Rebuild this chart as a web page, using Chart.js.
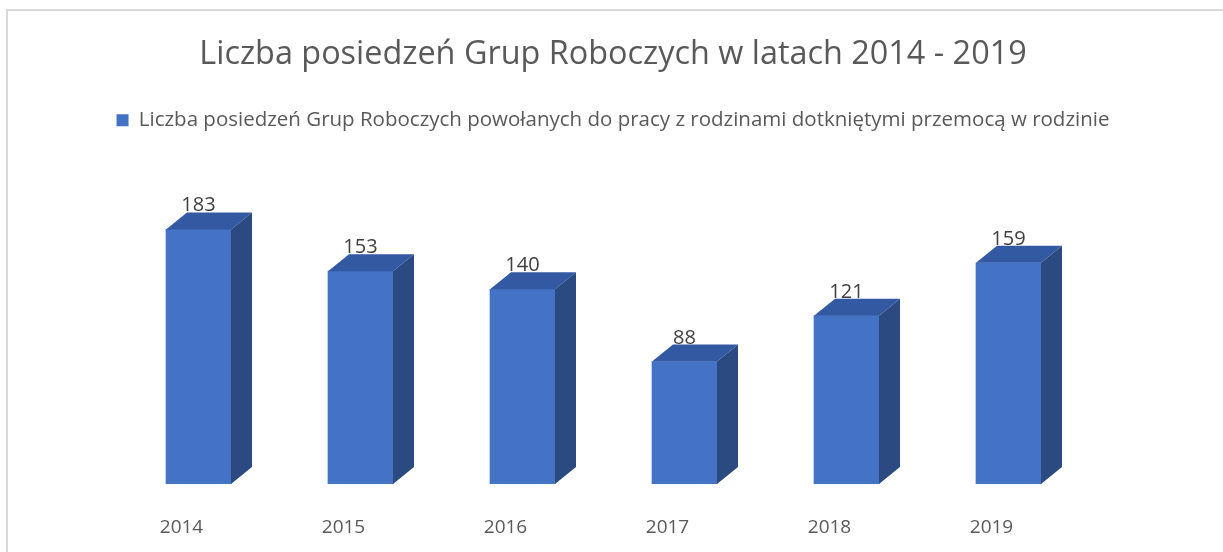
<!DOCTYPE html>
<html lang="pl">
<head>
    <meta charset="UTF-8">
    <title>Liczba posiedzeń Grup Roboczych</title>
    <script src="https://cdn.jsdelivr.net/npm/chart.js"></script>
    <style>
        body { margin: 0; background: #fff; }
        #frame { position: absolute; left: 6px; top: 9px; width: 1300px; height: 600px;
                 border-left: 2px solid #d9d9d9; border-top: 2px solid #d9d9d9; }
        #wrap { position: absolute; left: 0; top: 0; width: 1223px; height: 552px; }
    </style>
</head>
<body>
<div id="frame"></div>
<div id="wrap"><canvas id="posiedzenia"></canvas></div>

<script>
    // data
    const years = ['2014', '2015', '2016', '2017', '2018', '2019'];
    const meetings = [183, 153, 140, 88, 121, 159];
    const seriesName = 'Liczba posiedzeń Grup Roboczych powołanych do pracy z rodzinami dotkniętymi przemocą w rodzinie';
    const chartTitle = 'Liczba posiedzeń Grup Roboczych w latach 2014 - 2019';

    // 3d look: top and side faces drawn from each bar element
    const depthX = 21, depthY = 17;
    const bar3d = {
        id: 'bar3d',
        afterDatasetsDraw(chart) {
            const ctx = chart.ctx;
            const meta = chart.getDatasetMeta(0);
            ctx.save();
            meta.data.forEach((bar, i) => {
                const p = bar.getProps(['x', 'y', 'base', 'width'], true);
                const l = p.x - p.width / 2, r = p.x + p.width / 2;
                // top
                ctx.fillStyle = '#3459a3';
                ctx.beginPath();
                ctx.moveTo(l, p.y);
                ctx.lineTo(l + depthX, p.y - depthY);
                ctx.lineTo(r + depthX, p.y - depthY);
                ctx.lineTo(r, p.y);
                ctx.closePath();
                ctx.fill();
                // side
                ctx.fillStyle = '#2b4a81';
                ctx.beginPath();
                ctx.moveTo(r, p.y);
                ctx.lineTo(r + depthX, p.y - depthY);
                ctx.lineTo(r + depthX, p.base - depthY);
                ctx.lineTo(r, p.base);
                ctx.closePath();
                ctx.fill();
                // value
                ctx.fillStyle = '#404040';
                ctx.font = '20px "Open Sans"';
                ctx.textAlign = 'center';
                ctx.textBaseline = 'alphabetic';
                ctx.fillText(String(meetings[i]), p.x, p.y - depthY - 1);
            });
            ctx.restore();
        }
    };

    const ctx = document.getElementById('posiedzenia').getContext('2d');
    const chart = new Chart(ctx, {
        type: 'bar',
        data: {
            labels: years,
            datasets: [{
                label: seriesName,
                data: meetings,
                backgroundColor: '#4472c4',
                borderWidth: 0,
                barThickness: 65
            }]
        },
        options: {
            responsive: true,
            maintainAspectRatio: false,
            animation: false,
            layout: { padding: { left: 3, bottom: 15 } },
            plugins: {
                title: {
                    display: true,
                    text: chartTitle,
                    color: '#595959',
                    font: { family: 'Open Sans', size: 32.4, weight: 'normal' },
                    padding: { top: 35, bottom: 26 }
                },
                legend: {
                    labels: {
                        color: '#595959',
                        font: { family: 'Open Sans', size: 20.5 },
                        boxWidth: 12,
                        boxHeight: 12,
                        padding: 10
                    }
                },
                tooltip: { enabled: false }
            },
            scales: {
                x: {
                    grid: { display: false, drawTicks: false },
                    border: { display: false },
                    ticks: {
                        color: '#595959',
                        font: { family: 'Open Sans', size: 19 },
                        padding: 32,
                        labelOffset: -17
                    },
                    afterFit(scale) { scale.height = 53; }
                },
                y: {
                    min: 0,
                    max: 247,
                    display: true,
                    grid: { display: false, drawTicks: false },
                    border: { display: false },
                    ticks: { display: false },
                    afterFit(scale) { scale.width = 114.5; }
                },
                yRight: {
                    position: 'right',
                    display: true,
                    grid: { display: false, drawTicks: false },
                    border: { display: false },
                    ticks: { display: false },
                    afterFit(scale) { scale.width = 133.5; }
                }
            }
        },
        plugins: [bar3d]
    });
</script>
</body>
</html>
